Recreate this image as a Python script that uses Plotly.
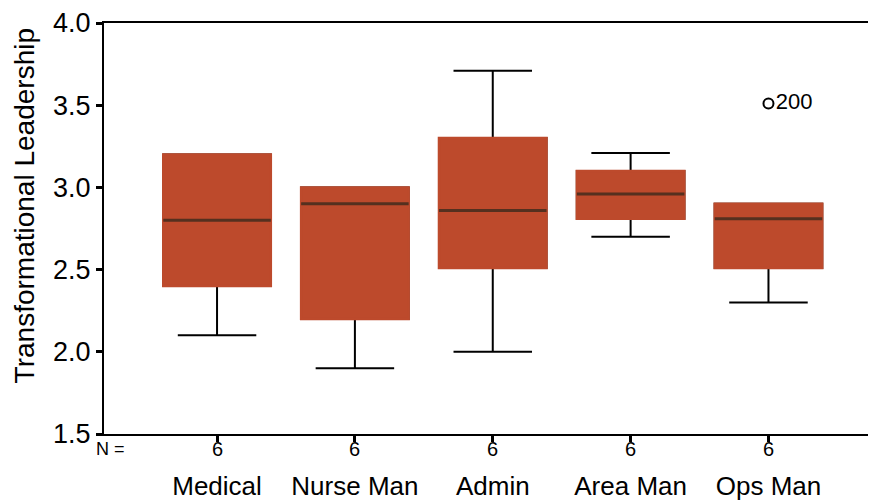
import plotly.graph_objects as go

categories = ["Medical", "Nurse Man", "Admin", "Area Man", "Ops Man"]
n_counts = [6, 6, 6, 6, 6]
q1 = [2.40, 2.20, 2.51, 2.81, 2.51]
median = [2.80, 2.90, 2.86, 2.96, 2.81]
q3 = [3.20, 3.00, 3.30, 3.10, 2.90]
lower_whisker = [2.10, 1.90, 2.00, 2.70, 2.30]
upper_whisker = [3.20, 3.00, 3.71, 3.21, 2.90]
outlier_category = ["Ops Man"]
outlier_value = [3.51]
outlier_label = ["200"]
y_ticks = [1.5, 2.0, 2.5, 3.0, 3.5, 4.0]

BOX_RED = "#BD4A2C"
MEDIAN = "#55301F"
FONT = "Liberation Sans, Arial, sans-serif"
BOX_W = 0.78
WHISK_W = 0.73

fig = go.Figure()
# whiskers (black)
fig.add_trace(go.Box(
    x=categories, q1=q1, median=median, q3=q3,
    lowerfence=lower_whisker, upperfence=upper_whisker,
    width=BOX_W, whiskerwidth=WHISK_W, boxpoints=False,
    fillcolor=BOX_RED, line=dict(color="black", width=2),
    showlegend=False, hoverinfo="skip"))
# box body without outline
fig.add_trace(go.Box(
    x=categories, q1=q1, median=median, q3=q3,
    lowerfence=q1, upperfence=q3,
    width=BOX_W, whiskerwidth=WHISK_W, boxpoints=False,
    fillcolor=BOX_RED, line=dict(color=BOX_RED, width=2.5),
    showlegend=False, hoverinfo="skip"))
# median line
fig.add_trace(go.Box(
    x=categories, q1=median, median=median, q3=median,
    lowerfence=median, upperfence=median,
    width=BOX_W, whiskerwidth=0, boxpoints=False,
    fillcolor=MEDIAN, line=dict(color=MEDIAN, width=3),
    showlegend=False, hoverinfo="skip"))
# outlier
fig.add_trace(go.Scatter(
    x=outlier_category, y=outlier_value, mode="markers+text",
    marker=dict(symbol="circle-open", size=10, color="black", line=dict(width=2)),
    text=outlier_label, textposition="middle right",
    textfont=dict(family=FONT, size=22, color="black"),
    showlegend=False, hoverinfo="skip"))

annotations = []
for c, n in zip(categories, n_counts):
    annotations.append(dict(x=c, y=-0.037, xref="x", yref="paper", text=str(n),
                            showarrow=False, yanchor="middle",
                            font=dict(family=FONT, size=20, color="black")))
annotations.append(dict(x=-0.77, y=-0.037, xref="x", yref="paper", text="N =",
                        showarrow=False, yanchor="middle",
                        font=dict(family=FONT, size=18, color="black")))
annotations.append(dict(x=-0.103, y=0.555, xref="paper", yref="paper",
                        text="Transformational Leadership", textangle=-90,
                        showarrow=False, xanchor="center", yanchor="middle",
                        font=dict(family=FONT, size=28, color="black")))

# the page body has an 8px margin, so the figure is sized to fit the window
fig.update_layout(
    width=868, height=495,
    margin=dict(l=96, r=0, t=10, b=69),
    paper_bgcolor="white", plot_bgcolor="white",
    boxmode="overlay",
    annotations=annotations,
    xaxis=dict(type="category", categoryorder="array", categoryarray=categories,
               range=[-0.82, 4.78], showgrid=False, zeroline=False,
               showline=True, linecolor="black", linewidth=2, mirror=True,
               ticks="outside", ticklen=6, tickwidth=3, tickcolor="black",
               ticklabelstandoff=22,
               tickfont=dict(family=FONT, size=26, color="black")),
    yaxis=dict(range=[1.5, 4.0], tickvals=y_ticks,
               ticktext=[f"{v:.1f}" for v in y_ticks],
               ticklabeloverflow="allow",
               showgrid=False, zeroline=False,
               showline=True, linecolor="black", linewidth=2,
               ticks="outside", ticklen=6, tickwidth=3, tickcolor="black",
               tickfont=dict(family=FONT, size=27, color="black")),
)

fig.write_html("out.html")
